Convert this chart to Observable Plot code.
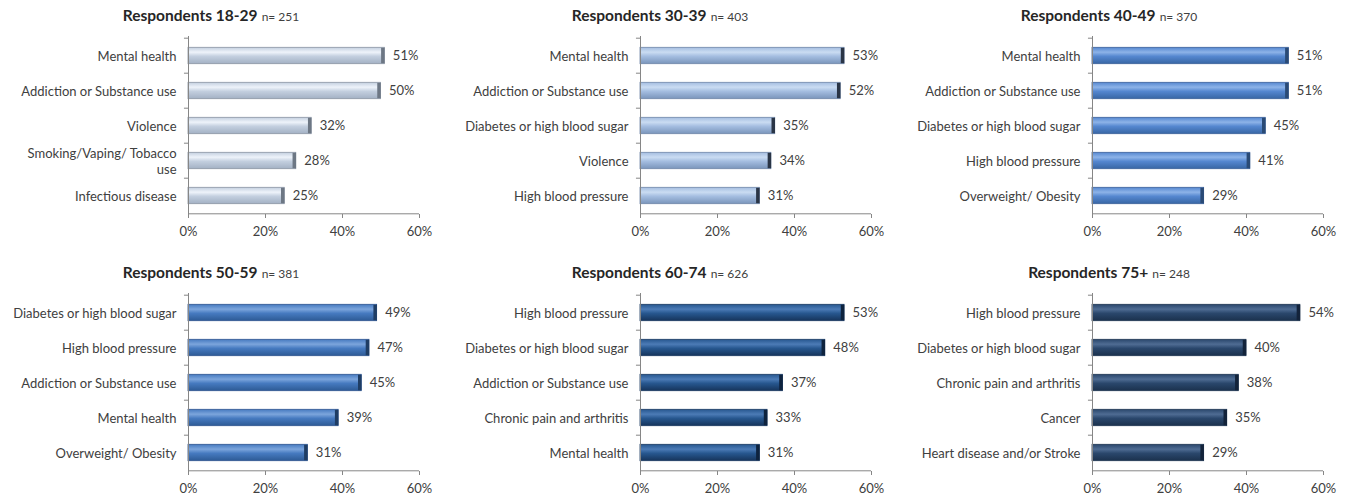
<!DOCTYPE html>
<html>
<head>
<meta charset="utf-8">
<script src="https://cdn.jsdelivr.net/npm/d3@7"></script>
<script src="https://cdn.jsdelivr.net/npm/@observablehq/plot@0.6"></script>
<style>
  html, body { margin: 0; padding: 0; background: #fff; width: 1348px; height: 499px; overflow: hidden; }
  .panel { position: absolute; width: 449px; height: 250px; }
  .title { position: absolute; left: 0; top: 5px; width: 422px; text-align: center; font-family: Lato, "Open Sans", sans-serif; color: #262626; line-height: 20px; white-space: nowrap; }
  .title b { font-size: 15.5px; font-weight: 700; }
  .title span { font-size: 12px; color: #404040; }
  .chart { position: absolute; left: 0; top: 30px; }
</style>
</head>
<body>
<script>
// ---- data ----
const titles = ["Respondents 18-29", "Respondents 30-39", "Respondents 40-49", "Respondents 50-59", "Respondents 60-74", "Respondents 75+"];
const sampleSizes = [251, 403, 370, 381, 626, 248];

const cats1829 = ["Mental health", "Addiction or Substance use", "Violence", "Smoking/Vaping/ Tobacco use", "Infectious disease"];
const vals1829 = [51, 50, 32, 28, 25];

const cats3039 = ["Mental health", "Addiction or Substance use", "Diabetes or high blood sugar", "Violence", "High blood pressure"];
const vals3039 = [53, 52, 35, 34, 31];

const cats4049 = ["Mental health", "Addiction or Substance use", "Diabetes or high blood sugar", "High blood pressure", "Overweight/ Obesity"];
const vals4049 = [51, 51, 45, 41, 29];

const cats5059 = ["Diabetes or high blood sugar", "High blood pressure", "Addiction or Substance use", "Mental health", "Overweight/ Obesity"];
const vals5059 = [49, 47, 45, 39, 31];

const cats6074 = ["High blood pressure", "Diabetes or high blood sugar", "Addiction or Substance use", "Chronic pain and arthritis", "Mental health"];
const vals6074 = [53, 48, 37, 33, 31];

const cats75 = ["High blood pressure", "Diabetes or high blood sugar", "Chronic pain and arthritis", "Cancer", "Heart disease and/or Stroke"];
const vals75 = [54, 40, 38, 35, 29];

const xTicks = [0, 20, 40, 60];

// ---- styles (colors per panel: top, highlight, bottom, border, end cap) ----
const palettes = [
  ["#c3cfdf", "#eef3fa", "#a3b1c4", "#8a94a3", "#6d7784"],
  ["#a4bde0", "#cadcf2", "#7a95bb", "#6f86a8", "#2a3546"],
  ["#5587d0", "#8db3e8", "#3866a4", "#3c629a", "#2a4a75"],
  ["#467ac0", "#7ca5dc", "#2d5a95", "#2f5590", "#1f3d64"],
  ["#27578f", "#4c7bb6", "#16345b", "#1a3962", "#0e233e"],
  ["#2a476c", "#4f6c93", "#1b314d", "#1e3552", "#13233a"]
];

const panels = [
  [cats1829, vals1829], [cats3039, vals3039], [cats4049, vals4049],
  [cats5059, vals5059], [cats6074, vals6074], [cats75, vals75]
];
const lefts = [0, 449, 898];
const tops = [0, 257];
const marginLefts = [188, 191, 194];

const W = 449, H = 214, MT = 6, MB = 30, PW = 231;
const step = (H - MT - MB) / 5;
const inset = 9.3;

panels.forEach(([cats, vals], i) => {
  const col = i % 3, row = Math.floor(i / 3);
  const pal = palettes[i];
  const data = cats.map((c, j) => ({cat: c, v: vals[j]}));
  const ml = marginLefts[col];

  const div = document.createElement("div");
  div.className = "panel";
  div.style.left = lefts[col] + "px";
  div.style.top = tops[row] + "px";
  const t = document.createElement("div");
  t.className = "title";
  t.innerHTML = `<b>${titles[i]}</b> <span>n= ${sampleSizes[i]}</span>`;
  div.appendChild(t);

  const gid = "grad" + i;
  const svg = Plot.plot({
    width: W, height: H,
    marginLeft: ml, marginRight: W - ml - PW, marginTop: MT, marginBottom: MB,
    style: {fontFamily: "Lato, 'Open Sans', sans-serif", fontSize: "13px", color: "#404040", background: "transparent"},
    x: {domain: [0, 60], label: null},
    y: {domain: cats, padding: 0, label: null},
    marks: [
      Plot.axisY({tickSize: 0, tickPadding: 12, fill: "#404040", fontSize: 13, lineHeight: 1.2,
        tickFormat: d => d === "Smoking/Vaping/ Tobacco use" ? "Smoking/Vaping/ Tobacco\nuse" : d}),
      Plot.axisX({ticks: xTicks, tickFormat: d => d + "%", tickSize: 4, tickPadding: 8, stroke: "#868686", fill: "#404040", fontSize: 13}),
      Plot.barX(data, {x: "v", y: "cat", fill: `url(#${gid})`, stroke: pal[3], strokeWidth: 0.8, insetTop: inset, insetBottom: inset}),
      Plot.tickX(data, {x: "v", y: "cat", stroke: pal[4], strokeWidth: 3.5, dx: -2, insetTop: inset + 0.5, insetBottom: inset + 0.5}),
      Plot.ruleX([0], {stroke: "#868686", strokeWidth: 1}),
      Plot.ruleY(cats, {y: d => d, x1: -1.05, x2: 0, dy: -step / 2, stroke: "#868686"}),
      Plot.ruleY([cats[cats.length - 1]], {y: d => d, x1: 0, x2: 60, dy: step / 2, stroke: "#868686"}),
      Plot.text(data, {x: "v", y: "cat", text: d => d.v + "%", dx: 8, textAnchor: "start", fill: "#404040", fontSize: 13})
    ]
  });
  const defs = d3.select(svg).insert("defs", ":first-child");
  const lg = defs.append("linearGradient").attr("id", gid).attr("x1", 0).attr("y1", 0).attr("x2", 0).attr("y2", 1);
  lg.append("stop").attr("offset", "0%").attr("stop-color", pal[0]);
  lg.append("stop").attr("offset", "30%").attr("stop-color", pal[1]);
  lg.append("stop").attr("offset", "55%").attr("stop-color", pal[0]);
  lg.append("stop").attr("offset", "100%").attr("stop-color", pal[2]);
  svg.classList.add("chart");
  div.appendChild(svg);
  document.body.appendChild(div);
});
</script>
</body>
</html>
